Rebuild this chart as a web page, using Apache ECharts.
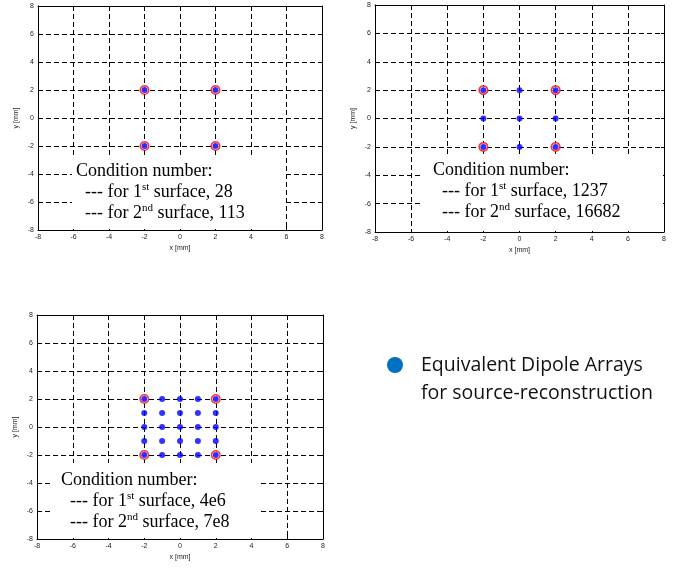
<!DOCTYPE html>
<html><head><meta charset="utf-8">
<script src="https://cdn.jsdelivr.net/npm/echarts@6/dist/echarts.min.js"></script>
<style>html,body{margin:0;padding:0;background:#fff}#c{width:679px;height:569px}</style>
</head><body><div id="c"></div>
<script>
// Dipole positions (x, y in mm) for the three equivalent arrays
const dipolesA = [[-2, 2], [2, 2], [-2, -2], [2, -2]];
const dipolesB = [[-2, 2], [0, 2], [2, 2], [-2, 0], [0, 0], [2, 0], [-2, -2], [0, -2], [2, -2]];
const dipolesC = [
  [-2, 2], [-1, 2], [0, 2], [1, 2], [2, 2],
  [-2, 1], [-1, 1], [0, 1], [1, 1], [2, 1],
  [-2, 0], [-1, 0], [0, 0], [1, 0], [2, 0],
  [-2, -1], [-1, -1], [0, -1], [1, -1], [2, -1],
  [-2, -2], [-1, -2], [0, -2], [1, -2], [2, -2]
];
// Measurement points shared by all arrays (circled in red)
const sensors = [[-2, 2], [2, 2], [-2, -2], [2, -2]];
// Condition numbers per array
const condFirst = ['28', '1237', '4e6'];
const condSecond = ['113', '16682', '7e8'];
const axisMin = -8, axisMax = 8, axisStep = 2;
const legendText = ['Equivalent Dipole Arrays', 'for source-reconstruction'];

const arrays = [dipolesA, dipolesB, dipolesC];

// Panel layout: plot rectangle and annotation box (pixels)
const panels = [
  { left: 38, top: 6, width: 284, height: 224, box: [72, 155, 283, 229], text: [76, 161] },
  { left: 375, top: 5, width: 289, height: 227, box: [423, 155, 663, 231], text: [433, 160] },
  { left: 37, top: 315, width: 286, height: 224, box: [50, 463, 258, 538], text: [61, 470] }
];

const labelFont = { fontSize: 7, color: '#222', fontFamily: 'Liberation Sans' };
const axisLine = { show: true, onZero: false, lineStyle: { color: '#000', width: 1 } };
const tick = { show: true, inside: true, length: 3, lineStyle: { color: '#000' } };
const dashed = { show: true, lineStyle: { type: [5, 3], color: '#000', width: 1 } };

const grid = [], xAxis = [], yAxis = [], series = [], graphic = [];

panels.forEach((p, i) => {
  grid.push({ left: p.left, top: p.top, width: p.width, height: p.height, show: false });
  const base = { type: 'value', min: axisMin, max: axisMax, interval: axisStep, gridIndex: i };
  xAxis.push(Object.assign({}, base, {
    position: 'bottom', axisLine, axisTick: tick,
    axisLabel: Object.assign({ margin: 4 }, labelFont),
    splitLine: dashed,
    name: 'x [mm]', nameLocation: 'middle', nameGap: 15,
    nameTextStyle: labelFont
  }));
  xAxis.push(Object.assign({}, base, {
    position: 'top', axisLine, axisTick: tick,
    axisLabel: { show: false }, splitLine: { show: false }
  }));
  yAxis.push(Object.assign({}, base, {
    position: 'left', axisLine, axisTick: tick,
    axisLabel: Object.assign({ margin: 4 }, labelFont),
    splitLine: dashed,
    name: 'y [mm]', nameLocation: 'middle', nameGap: 18,
    nameTextStyle: labelFont
  }));
  yAxis.push(Object.assign({}, base, {
    position: 'right', axisLine, axisTick: tick,
    axisLabel: { show: false }, splitLine: { show: false }
  }));

  series.push({
    type: 'scatter', xAxisIndex: 2 * i, yAxisIndex: 2 * i, data: sensors,
    symbolSize: 8.5, z: 3, silent: true,
    itemStyle: { color: '#fff', borderColor: '#ff0000', borderWidth: 1.5 }
  });
  series.push({
    type: 'scatter', xAxisIndex: 2 * i, yAxisIndex: 2 * i, data: arrays[i],
    symbolSize: 6, z: 4, silent: true,
    itemStyle: { color: '#0000ff' }
  });

  const [x0, y0, x1, y1] = p.box;
  graphic.push({
    type: 'rect', z: 10, shape: { x: x0, y: y0, width: x1 - x0, height: y1 - y0 },
    style: { fill: '#fff' }
  });
  graphic.push({
    type: 'text', z: 11, x: p.text[0], y: p.text[1],
    style: {
      text: 'Condition number:\n' +
        '  --- for 1{sup|st} surface, ' + condFirst[i] + '\n' +
        '  --- for 2{sup|nd} surface, ' + condSecond[i],
      fontFamily: 'Liberation Serif', fontSize: 18, lineHeight: 21, fill: '#000',
      rich: {
        sup: { fontSize: 11, lineHeight: 13, verticalAlign: 'top', fontFamily: 'Liberation Serif', fill: '#000' }
      }
    }
  });
});

// Key on the right: dot and two-line caption
graphic.push({ type: 'circle', shape: { cx: 395, cy: 365, r: 8 }, style: { fill: '#0070C0' } });
graphic.push({
  type: 'text', x: 421, y: 351,
  style: { text: legendText.join('\n'), fontFamily: 'Open Sans', fontSize: 19.5, lineHeight: 28, fill: '#111' }
});

const chart = echarts.init(document.getElementById('c'), null, { renderer: 'canvas' });
chart.setOption({ animation: false, backgroundColor: '#fff', grid, xAxis, yAxis, series, graphic });
</script>
</body></html>
